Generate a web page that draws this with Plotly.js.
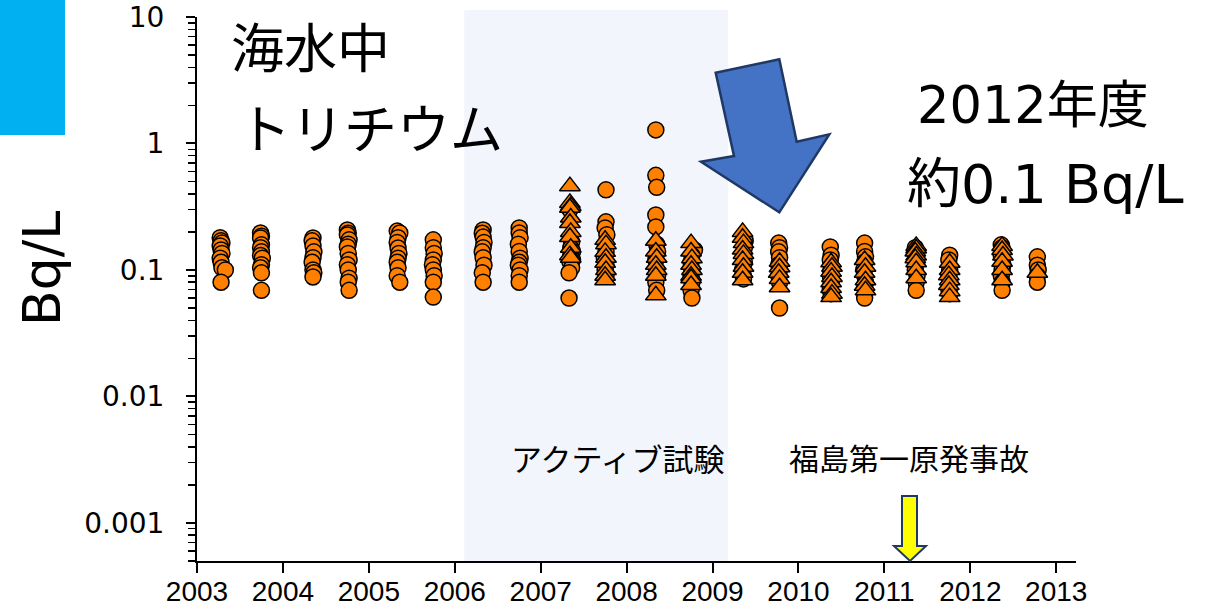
<!DOCTYPE html>
<html>
<head>
<meta charset="utf-8">
<script src="https://cdn.plot.ly/plotly-3.0.1.min.js"></script>
<style>html,body{margin:0;padding:0;background:#fff;}#chart{width:1211px;height:608px;}</style>
</head>
<body>
<div id="chart"></div>
<script>
// ---- data ----
const circleDates = [
  2003.27,2003.28,2003.29,2003.27,2003.28,2003.29,2003.27,2003.28,2003.29,2003.33,2003.28,
  2003.74,2003.75,2003.74,2003.75,2003.74,2003.75,2003.74,2003.76,2003.75,2003.74,2003.75,2003.75,
  2004.35,2004.34,2004.35,2004.36,2004.35,2004.34,2004.35,2004.36,2004.35,
  2004.75,2004.76,2004.75,2004.77,2004.76,2004.75,2004.76,2004.77,2004.75,2004.76,2004.77,2004.76,2004.77,
  2005.33,2005.36,2005.34,2005.33,2005.34,2005.35,2005.34,2005.33,2005.34,2005.33,2005.36,
  2005.75,2005.75,2005.76,2005.75,2005.74,2005.75,2005.76,2005.75,2005.75,
  2006.33,2006.32,2006.33,2006.34,2006.33,2006.32,2006.33,2006.34,2006.32,2006.33,
  2006.75,2006.75,2006.76,2006.74,2006.75,2006.76,2006.75,2006.74,2006.76,2006.75,2006.75,
  2007.34,2007.36,2007.35,2007.37,2007.35,2007.37,2007.34,2007.36,2007.33,2007.33,
  2007.76,2007.76,2007.75,2007.77,2007.75,2007.76,2007.74,2007.76,2007.75,2007.76,
  2008.34,2008.34,2008.35,2008.34,2008.34,2008.35,2008.36,2008.34,2008.35,2008.36,2008.34,2008.35,
  2008.79,2008.76,2008.75,2008.76,2008.75,2008.76,2008.75,2008.76,
  2009.38,2009.37,2009.36,2009.37,2009.35,2009.36,2009.36,
  2009.77,2009.78,2009.77,2009.78,2009.77,2009.78,2009.77,2009.78,2009.78,
  2010.37,2010.38,2010.37,2010.38,2010.37,2010.38,2010.37,2010.38,
  2010.77,2010.77,2010.78,2010.77,2010.76,2010.77,2010.78,2010.77,2010.77,
  2011.36,2011.37,2011.36,2011.37,2011.36,2011.38,2011.37,2011.37,
  2011.76,2011.75,2011.76,2011.75,2011.76,2011.75,2011.76,
  2012.36,2012.37,2012.36,2012.38,2012.37,2012.36,2012.37,2012.37,
  2012.78,2012.78,2012.79,2012.78,2012.78
];
const circleValues = [
  0.18,0.17,0.163,0.155,0.144,0.135,0.124,0.115,0.104,0.10,0.08,
  0.196,0.185,0.179,0.158,0.15,0.139,0.13,0.124,0.11,0.104,0.095,0.069,
  0.179,0.17,0.155,0.139,0.125,0.115,0.10,0.095,0.088,
  0.207,0.195,0.189,0.173,0.16,0.152,0.135,0.12,0.11,0.10,0.086,0.08,0.069,
  0.203,0.196,0.18,0.165,0.149,0.135,0.124,0.115,0.104,0.09,0.08,
  0.173,0.15,0.135,0.12,0.11,0.10,0.09,0.08,0.061,
  0.207,0.195,0.182,0.165,0.15,0.139,0.125,0.109,0.095,0.08,
  0.215,0.196,0.18,0.16,0.14,0.124,0.115,0.109,0.10,0.09,0.08,
  0.30,0.166,0.149,0.14,0.131,0.12,0.116,0.104,0.095,0.06,
  0.43,0.24,0.215,0.19,0.16,0.14,0.125,0.11,0.10,0.09,
  1.28,0.56,0.45,0.272,0.219,0.16,0.14,0.12,0.10,0.09,0.08,0.069,
  0.144,0.13,0.115,0.10,0.09,0.08,0.069,0.06,
  0.17,0.15,0.13,0.115,0.10,0.09,0.085,
  0.163,0.15,0.139,0.125,0.11,0.10,0.09,0.08,0.05,
  0.152,0.131,0.12,0.10,0.09,0.08,0.07,0.065,
  0.163,0.14,0.127,0.115,0.10,0.09,0.08,0.072,0.06,
  0.15,0.14,0.13,0.115,0.10,0.09,0.08,0.069,
  0.131,0.12,0.10,0.09,0.08,0.07,0.065,
  0.158,0.15,0.13,0.11,0.10,0.09,0.08,0.069,
  0.127,0.109,0.10,0.09,0.08
];
const triangleDates = [
  2007.34,2007.34,2007.35,2007.34,2007.35,2007.34,2007.35,2007.34,2007.35,2007.34,2007.35,
  2007.75,2007.76,2007.75,2007.76,2007.75,2007.76,2007.75,2007.75,
  2008.34,2008.34,2008.35,2008.34,2008.35,2008.34,2008.34,
  2008.75,2008.75,2008.76,2008.75,2008.76,2008.75,2008.75,2008.75,
  2009.35,2009.35,2009.36,2009.35,2009.36,2009.35,2009.36,2009.35,2009.35,
  2009.78,2009.78,2009.77,2009.78,2009.78,
  2010.38,2010.39,2010.38,2010.39,2010.38,2010.38,2010.39,2010.38,
  2010.77,2010.78,2010.77,2010.78,2010.77,2010.78,
  2011.37,2011.37,2011.36,2011.37,2011.36,2011.37,2011.37,2011.37,
  2011.76,2011.76,2011.75,2011.76,2011.75,2011.76,2011.76,
  2012.37,2012.37,2012.38,2012.37,2012.37,2012.37,
  2012.78
];
const triangleValues = [
  0.46,0.339,0.32,0.31,0.26,0.235,0.20,0.182,0.15,0.131,0.125,
  0.173,0.16,0.139,0.125,0.114,0.10,0.09,0.083,
  0.17,0.14,0.125,0.11,0.10,0.09,0.063,
  0.163,0.14,0.124,0.11,0.10,0.09,0.086,0.076,
  0.20,0.18,0.163,0.145,0.134,0.12,0.106,0.095,0.083,
  0.116,0.105,0.095,0.085,0.073,
  0.115,0.106,0.097,0.088,0.08,0.072,0.065,0.061,
  0.12,0.106,0.095,0.083,0.075,0.069,
  0.155,0.148,0.14,0.13,0.124,0.115,0.10,0.086,
  0.114,0.10,0.091,0.083,0.076,0.068,0.061,
  0.155,0.144,0.13,0.116,0.10,0.083,
  0.095
];
const yTickValues = [0.001, 0.01, 0.1, 1, 10];
const yTickLabels = ['0.001', '0.01', '0.1', '1', '10'];
const activeTestPeriod = [2006.11, 2009.18];

// ---- layout helpers (pixel -> paper) ----
const W = 1211, H = 608;
const M = {l: 197, r: 135, t: 17, b: 47};
const PW = W - M.l - M.r, PH = H - M.t - M.b;
const px = X => (X - M.l) / PW;
const py = Y => (H - M.b - Y) / PH;
const path = pts => 'M' + pts.map(p => px(p[0]).toFixed(5) + ',' + py(p[1]).toFixed(5)).join(' L') + ' Z';

const markerBase = {color: '#ff8000', size: 16, line: {color: '#000000', width: 1.5}};

const traces = [
  {type: 'scatter', mode: 'markers', x: circleDates, y: circleValues,
   marker: Object.assign({symbol: 'circle'}, markerBase), showlegend: false, hoverinfo: 'x+y'},
  {type: 'scatter', mode: 'markers', x: triangleDates, y: triangleValues,
   marker: Object.assign({}, markerBase, {symbol: 'triangle-up', size: 18}), showlegend: false, hoverinfo: 'x+y'}
];

const jpFont = '"Noto Sans CJK JP", "Noto Sans", sans-serif';
const wideFont = '"DejaVu Sans", "Noto Sans CJK JP", sans-serif';
const ann = (text, X, Y, size, family) => ({text: text, xref: 'paper', yref: 'paper', x: px(X), y: py(Y),
  xanchor: 'left', yanchor: 'middle', showarrow: false, font: {family: family || jpFont, size: size, color: '#000'}});

const layout = {
  width: W, height: H,
  margin: M,
  paper_bgcolor: '#ffffff', plot_bgcolor: '#ffffff',
  showlegend: false,
  font: {family: '"Liberation Sans", Arial, sans-serif', color: '#000'},
  xaxis: {
    range: [2003, 2013.23], tick0: 2003, dtick: 1, ticks: 'outside', ticklen: 10, tickwidth: 2,
    tickcolor: '#000', showline: true, linecolor: '#000', linewidth: 2, showgrid: false, zeroline: false,
    tickfont: {size: 28, color: '#000'}, tickformat: 'd', ticklabelstandoff: -6
  },
  yaxis: {
    type: 'log', range: [Math.log10(0.0005), 1], tickmode: 'array', tickvals: yTickValues, ticktext: yTickLabels,
    ticks: 'outside', ticklen: 9, tickwidth: 2, tickcolor: '#000',
    minor: {ticks: 'outside', ticklen: 7, tickwidth: 1.5, tickcolor: '#000', dtick: 'D1', showgrid: false},
    showline: true, linecolor: '#000', linewidth: 2, showgrid: false, zeroline: false,
    tickfont: {family: '"DejaVu Sans", sans-serif', size: 28, color: '#000'}, ticklabelstandoff: 16
  },
  shapes: [
    {type: 'rect', xref: 'x', yref: 'paper', x0: activeTestPeriod[0], x1: activeTestPeriod[1], y0: 0, y1: py(10),
     fillcolor: '#f2f5fb', line: {width: 0}, layer: 'below'},
    {type: 'rect', xref: 'paper', yref: 'paper', x0: px(0), x1: px(65), y0: py(135), y1: py(0),
     fillcolor: '#00b0f0', line: {width: 0}, layer: 'above'},
    {type: 'path', xref: 'paper', yref: 'paper',
     path: path([[715.7,72.7],[779.3,59.3],[796.7,141.7],[829.3,134.3],[779.3,212.3],[701,161.7],[734,156]]),
     fillcolor: '#4472c4', line: {color: '#1f3864', width: 2.5}, layer: 'above'},
    {type: 'path', xref: 'paper', yref: 'paper',
     path: path([[902,496],[917,496],[917,546],[926,546],[910,561],[894,546],[902,546]]),
     fillcolor: '#ffff00', line: {color: '#1f3864', width: 2}, layer: 'above'}
  ],
  annotations: [
    {text: 'Bq/L', xref: 'paper', yref: 'paper', x: px(42), y: py(269), xanchor: 'center', yanchor: 'middle',
     textangle: -90, showarrow: false, font: {family: wideFont, size: 52, color: '#000'}},
    ann('海水中', 229, 45, 53),
    ann('トリチウム', 236, 126, 53),
    ann('2012年度', 915, 106, 51, wideFont),
    ann('約0.1 Bq/L', 905, 184, 54, wideFont),
    ann('アクティブ試験', 509, 457, 31),
    ann('福島第一原発事故', 787, 457, 30)
  ]
};

Plotly.newPlot('chart', traces, layout, {staticPlot: true, displayModeBar: false});
</script>
</body>
</html>
